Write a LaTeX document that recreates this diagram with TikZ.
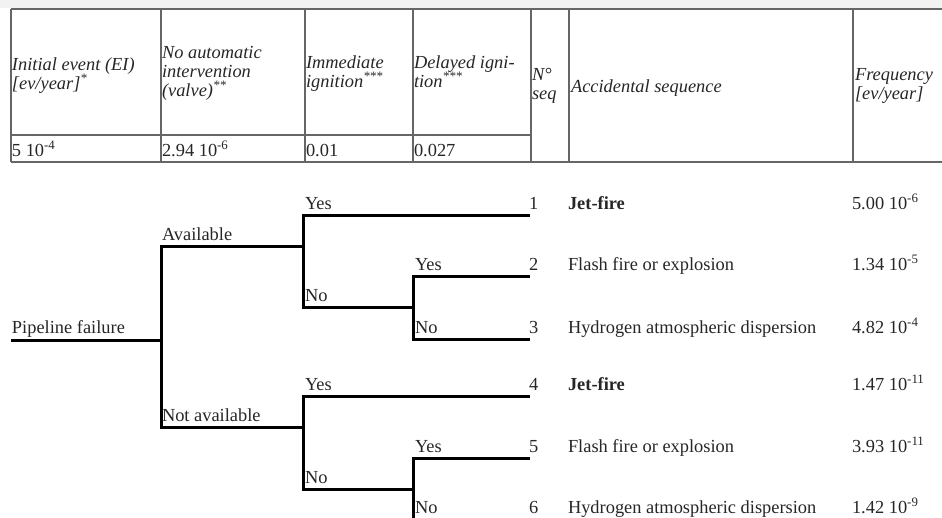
\documentclass[tikz,border=0pt]{standalone}
\usepackage{fontspec}
\setmainfont{Liberation Serif}
\begin{document}
\begin{tikzpicture}[x=1pt,y=-1pt,
  every node/.style={inner sep=0pt, outer sep=0pt, text=black!85, font=\fontsize{18.4}{22}\selectfont},
  hd/.style={anchor=base west, font=\fontsize{18.4}{22}\selectfont\itshape},
  tx/.style={anchor=base west},
  bx/.style={anchor=base west, font=\fontsize{18.4}{22}\selectfont\bfseries},
  grid/.style={draw=black!60, line width=1.3pt},
  tree/.style={draw=black, line width=3pt}]
\useasboundingbox (0,0) rectangle (942,517);
\clip (0,0) rectangle (942,517);
\fill[black!5] (0,0) rectangle (942,8);
% table grid
\coordinate (tl) at (11,9);
\coordinate (tr) at (942,9);
\coordinate (ml) at (11,135);
\coordinate (mr) at (531,135);
\coordinate (bl) at (11,162);
\coordinate (br) at (942,162);
\draw[grid] (tl) -- (tr);
\draw[grid] (ml) -- (mr);
\draw[grid] (bl) -- (br);
\foreach \xx in {11,161,305,413,531,569,853}{
  \draw[grid] (\xx,9) -- (\xx,162);
}
% header
\node[hd] (h1a) at (12,70) {Initial event (EI)};
\node[hd] (h1b) at (12,89) {[ev/year]\textsuperscript{*}};
\node[hd] (h2a) at (162,58) {No automatic};
\node[hd] (h2b) at (162,77) {intervention};
\node[hd] (h2c) at (162,96) {(valve)\textsuperscript{**}};
\node[hd] (h3a) at (306,68) {Immediate};
\node[hd] (h3b) at (306,87) {ignition\textsuperscript{***}};
\node[hd] (h4a) at (414,68) {Delayed igni-};
\node[hd] (h4b) at (414,87) {tion\textsuperscript{***}};
\node[hd] (h5a) at (532,80) {N°};
\node[hd] (h5b) at (532,99) {seq};
\node[hd] (h6) at (571,92) {Accidental sequence};
\node[hd] (h7a) at (855,80) {Frequency};
\node[hd] (h7b) at (855,99) {[ev/year]};
% data row
\node[tx] (d1) at (12,156) {5 10\textsuperscript{-4}};
\node[tx] (d2) at (162,156) {2.94 10\textsuperscript{-6}};
\node[tx] (d3) at (306,156) {0.01};
\node[tx] (d4) at (414,156) {0.027};
% tree
\coordinate (p0) at (11,340);
\coordinate (p1) at (161,340);
\coordinate (av) at (303,246);
\coordinate (na) at (303,427);
\coordinate (ay) at (530,215);
\coordinate (an) at (413,307);
\coordinate (any) at (530,276);
\coordinate (ann) at (530,339);
\coordinate (ny) at (530,396);
\coordinate (nn) at (413,489);
\coordinate (nny) at (530,458);
\coordinate (nnn) at (530,521);
\draw[tree] (p0) -- (p1);
\draw[tree] (p1) |- (av);
\draw[tree] (p1) |- (na);
\draw[tree] (av) |- (ay);
\draw[tree] (av) |- (an);
\draw[tree] (an) |- (any);
\draw[tree] (an) |- (ann);
\draw[tree] (na) |- (ny);
\draw[tree] (na) |- (nn);
\draw[tree] (nn) |- (nny);
\draw[tree] (nn) |- (nnn);
% branch labels
\node[tx] (lpf) at (12,333) {Pipeline failure};
\node[tx] (lav) at (162,240) {Available};
\node[tx] (lna) at (162,421) {Not available};
\node[tx] (y1) at (305,209) {Yes};
\node[tx] (n1) at (305,301) {No};
\node[tx] (y2) at (415,270) {Yes};
\node[tx] (n2) at (415,333) {No};
\node[tx] (y3) at (305,390) {Yes};
\node[tx] (n3) at (305,483) {No};
\node[tx] (y4) at (415,452) {Yes};
\node[tx] (n4) at (415,513) {No};
% sequence numbers
\node[tx] (s1) at (529,209) {1};
\node[tx] (s2) at (529,270) {2};
\node[tx] (s3) at (529,333) {3};
\node[tx] (s4) at (529,390) {4};
\node[tx] (s5) at (529,452) {5};
\node[tx] (s6) at (529,513) {6};
% sequences
\node[bx] (q1) at (568,209) {Jet-fire};
\node[tx] (q2) at (568,270) {Flash fire or explosion};
\node[tx] (q3) at (568,333) {Hydrogen atmospheric dispersion};
\node[bx] (q4) at (568,390) {Jet-fire};
\node[tx] (q5) at (568,452) {Flash fire or explosion};
\node[tx] (q6) at (568,513) {Hydrogen atmospheric dispersion};
% frequencies
\node[tx] (f1) at (852,209) {5.00 10\textsuperscript{-6}};
\node[tx] (f2) at (852,270) {1.34 10\textsuperscript{-5}};
\node[tx] (f3) at (852,333) {4.82 10\textsuperscript{-4}};
\node[tx] (f4) at (852,390) {1.47 10\textsuperscript{-11}};
\node[tx] (f5) at (852,452) {3.93 10\textsuperscript{-11}};
\node[tx] (f6) at (852,513) {1.42 10\textsuperscript{-9}};
\end{tikzpicture}
\end{document}
